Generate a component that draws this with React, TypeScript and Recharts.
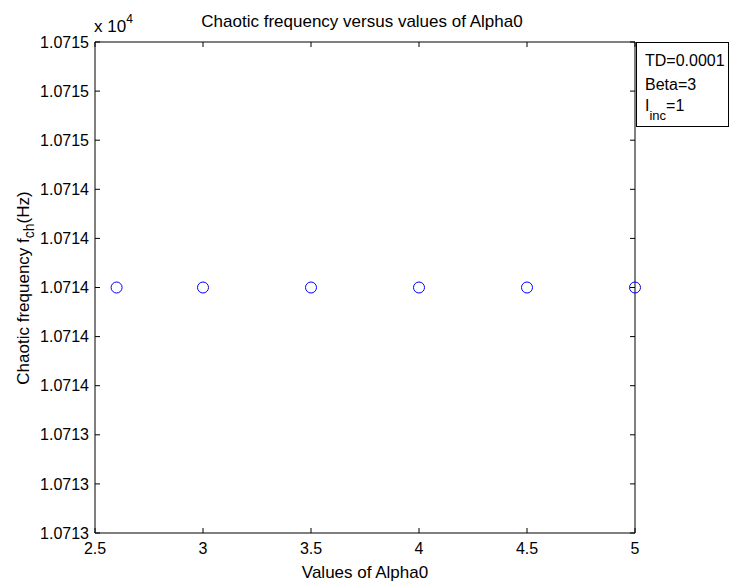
import React from 'react';
import {
  ScatterChart,
  Scatter,
  XAxis,
  YAxis,
  Customized,
} from 'recharts';

const alpha0 = [2.6, 3, 3.5, 4, 4.5, 5];
const chaoticFreq = [10714, 10714, 10714, 10714, 10714, 10714];
const xTicks = [2.5, 3, 3.5, 4, 4.5, 5];
const yTicks = [
  10713, 10713.2, 10713.4, 10713.6, 10713.8, 10714, 10714.2, 10714.4, 10714.6,
  10714.8, 10715,
];
const infoLines = ['TD=0.0001', 'Beta=3'];

const FONT = '"Liberation Sans", Arial, sans-serif';
const X_DOMAIN = [2.5, 5];
const Y_DOMAIN = [10713, 10715];
// plot box edges (follow from the chart margins and axis sizes below)
const LEFT = 95;
const RIGHT = 635;
const TOP = 42;
const BOTTOM = 533;
const data = alpha0.map((a, i) => ({ alpha: a, freq: chaoticFreq[i] }));

const Ring = ({ cx, cy }: any) => (
  <circle cx={cx} cy={cy} r={5.5} fill="none" stroke="#0000ff" strokeWidth={1} />
);

const NoTick = () => <g />;

// tick label plus MATLAB-style inward tick marks on both sides of the box
const XTick = ({ x, y, payload }: any) => (
  <g>
    <line x1={x} y1={BOTTOM} x2={x} y2={BOTTOM - 5} stroke="#000" />
    <line x1={x} y1={TOP} x2={x} y2={TOP + 5} stroke="#000" />
    <text x={x} y={y} dy="0.71em" textAnchor="middle" fill="#000" fontSize={16} fontFamily={FONT}>
      {payload.value}
    </text>
  </g>
);

const YTick = ({ x, y, payload }: any) => (
  <g>
    <line x1={LEFT} y1={y} x2={LEFT + 5} y2={y} stroke="#000" />
    <line x1={RIGHT} y1={y} x2={RIGHT - 5} y2={y} stroke="#000" />
    <text x={x} y={y} dy="0.355em" textAnchor="end" fill="#000" fontSize={16} fontFamily={FONT}>
      {(payload.value / 10000).toFixed(4)}
    </text>
  </g>
);

const Extras = () => (
  <g fontFamily={FONT} fontSize={17} fill="#000">
    <text x={362} y={27} textAnchor="middle">
      Chaotic frequency versus values of Alpha0
    </text>
    <text x={94} y={32}>
      x 10<tspan dy={-9} fontSize={12}>4</tspan>
    </text>
    <text x={365} y={578} textAnchor="middle">
      Values of Alpha0
    </text>
    <text transform="translate(29,288) rotate(-90)" textAnchor="middle">
      Chaotic frequency f<tspan dy={5} fontSize={14}>ch</tspan>
      <tspan dy={-5}>(Hz)</tspan>
    </text>
    <rect x={636.5} y={42.5} width={92} height={84} fill="#fff" stroke="#000" />
    <g fontSize={16}>
      {infoLines.map((t, i) => (
        <text key={t} x={645} y={66 + i * 24}>
          {t}
        </text>
      ))}
      <text x={645} y={111}>
        I<tspan dy={9} fontSize={13}>inc</tspan>
        <tspan dy={-9}>=1</tspan>
      </text>
    </g>
  </g>
);

export default function App() {
  return (
    <div style={{ position: 'absolute', left: 0, top: 0, background: '#fff' }}>
      <ScatterChart
        width={729}
        height={585}
        margin={{ top: TOP, right: 729 - RIGHT, bottom: 22, left: 35 }}
      >
        <XAxis
          xAxisId="b"
          type="number"
          dataKey="alpha"
          domain={X_DOMAIN}
          ticks={xTicks}
          height={30}
          stroke="#000"
          tickLine={false}
          tickSize={0}
          tickMargin={10}
          tick={XTick}
        />
        <XAxis
          xAxisId="tm"
          orientation="top"
          type="number"
          domain={X_DOMAIN}
          ticks={xTicks}
          mirror
          stroke="#000"
          tickLine={false}
          tick={NoTick}
        />
        <YAxis
          yAxisId="l"
          type="number"
          dataKey="freq"
          domain={Y_DOMAIN}
          ticks={yTicks}
          width={60}
          stroke="#000"
          tickLine={false}
          tickSize={0}
          tickMargin={6}
          tick={YTick}
        />
        <YAxis
          yAxisId="rm"
          orientation="right"
          type="number"
          domain={Y_DOMAIN}
          ticks={yTicks}
          mirror
          stroke="#000"
          tickLine={false}
          tick={NoTick}
        />
        <Scatter
          data={data}
          xAxisId="b"
          yAxisId="l"
          shape={Ring}
          isAnimationActive={false}
        />
        <Customized component={Extras} />
      </ScatterChart>
    </div>
  );
}
